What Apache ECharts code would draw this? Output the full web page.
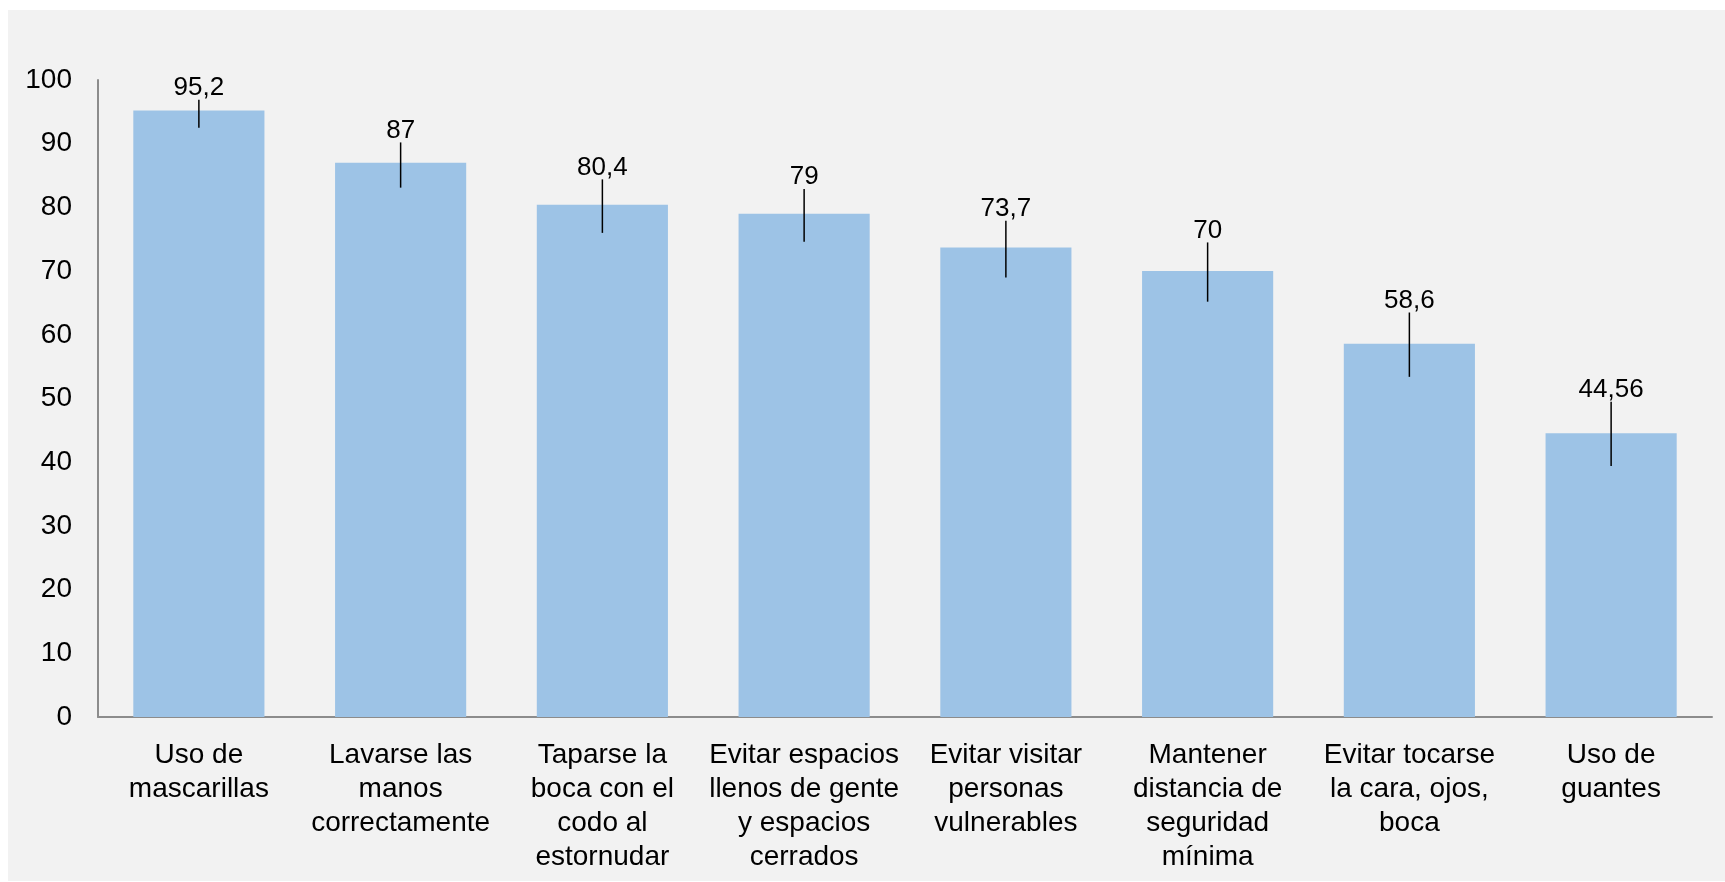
<!DOCTYPE html>
<html>
<head>
<meta charset="utf-8">
<script src="https://cdn.jsdelivr.net/npm/echarts@6/dist/echarts.min.js"></script>
<style>
html,body{margin:0;padding:0;background:#fff;}
#c{width:1725px;height:882px;}
</style>
</head>
<body>
<div id="c"></div>
<script>
const categories = [
  "Uso de\nmascarillas",
  "Lavarse las\nmanos\ncorrectamente",
  "Taparse la\nboca con el\ncodo al\nestornudar",
  "Evitar espacios\nllenos de gente\ny espacios\ncerrados",
  "Evitar visitar\npersonas\nvulnerables",
  "Mantener\ndistancia de\nseguridad\nmínima",
  "Evitar tocarse\nla cara, ojos,\nboca",
  "Uso de\nguantes"
];
const values = [95.2, 87, 80.4, 79, 73.7, 70, 58.6, 44.56];
const errorHigh = [96.9, 90.2, 84.4, 82.9, 77.9, 74.5, 63.5, 49.5];
const errorLow = [92.5, 83.1, 76.0, 74.6, 69.0, 65.2, 53.4, 39.4];
const valueLabels = ["95,2", "87", "80,4", "79", "73,7", "70", "58,6", "44,56"];
const yTicks = [0, 10, 20, 30, 40, 50, 60, 70, 80, 90, 100];

const chart = echarts.init(document.getElementById('c'), null, {renderer: 'canvas'});
const FONT = 'Liberation Sans, Arial, sans-serif';

const option = {
  backgroundColor: '#ffffff',
  animation: false,
  graphic: [{
    type: 'rect', z: -10, silent: true,
    shape: {x: 8, y: 10, width: 1717, height: 871},
    style: {fill: '#f2f2f2'}
  }],
  grid: {left: 98, right: 13, top: 80, bottom: 165, containLabel: false},
  xAxis: {
    type: 'category',
    data: categories,
    axisLine: {show: true, lineStyle: {color: '#8c8c8c', width: 2}},
    axisTick: {show: false},
    axisLabel: {
      interval: 0, margin: 21, color: '#000', fontSize: 28, lineHeight: 34,
      fontFamily: FONT, align: 'center'
    },
    splitLine: {show: false}
  },
  yAxis: {
    type: 'value', min: 0, max: 100, interval: 10,
    axisLine: {show: true, lineStyle: {color: '#8c8c8c', width: 2}},
    axisTick: {show: false},
    splitLine: {show: false},
    axisLabel: {
      color: '#000', fontSize: 28, fontFamily: FONT, margin: 26,
      formatter: function (v) { return yTicks.indexOf(v) >= 0 ? String(v) : ''; }
    }
  },
  series: [
    {
      type: 'bar',
      data: values,
      barCategoryGap: '35%',
      itemStyle: {color: '#9dc3e6'},
      z: 2
    },
    {
      type: 'custom',
      z: 5,
      data: values.map(function (v, i) { return [i, errorHigh[i], errorLow[i]]; }),
      renderItem: function (params, api) {
        const i = api.value(0);
        const top = api.coord([i, api.value(1)]);
        const bot = api.coord([i, api.value(2)]);
        return {
          type: 'group',
          children: [
            {
              type: 'line',
              shape: {x1: top[0], y1: top[1], x2: bot[0], y2: bot[1]},
              style: {stroke: '#000', lineWidth: 1.5}
            },
            {
              type: 'text',
              style: {
                text: valueLabels[i],
                x: top[0], y: top[1] + 1,
                align: 'center', verticalAlign: 'bottom',
                fill: '#000', font: '26px ' + FONT
              }
            }
          ]
        };
      }
    }
  ]
};
chart.setOption(option);
</script>
</body>
</html>
